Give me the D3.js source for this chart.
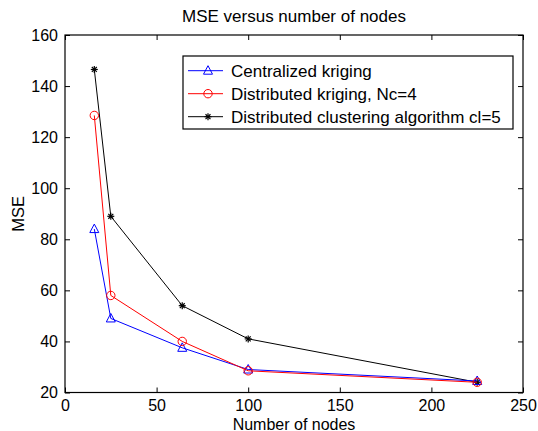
<!DOCTYPE html>
<html>
<head>
<meta charset="utf-8">
<script src="https://cdn.jsdelivr.net/npm/d3@7"></script>
<style>
  body { margin: 0; background: #fff; }
  svg text { font-family: "Liberation Sans", Arial, Helvetica, sans-serif; fill: #000; }
</style>
</head>
<body>
<div id="chart"></div>
<script>
// Data
const nodes = [16, 25, 64, 100, 225];
const centralized = [84, 49, 37.5, 29, 24.5];
const distributed = [128.5, 58, 40, 28.5, 24];
const clustering = [146.5, 89, 54, 41, 24];
const xTicks = [0, 50, 100, 150, 200, 250];
const yTicks = [20, 40, 60, 80, 100, 120, 140, 160];
const seriesNames = ['Centralized kriging', 'Distributed kriging, Nc=4', 'Distributed clustering algorithm cl=5'];

const width = 538, height = 431;
const margin = { top: 35, right: 15, bottom: 38.5, left: 65 };
const plotW = width - margin.left - margin.right;
const plotH = height - margin.top - margin.bottom;

const svg = d3.select('#chart').append('svg')
    .attr('width', width)
    .attr('height', height);

const chart = svg.append('g')
    .attr('transform', `translate(${margin.left}, ${margin.top})`);

const x = d3.scaleLinear().domain([0, 250]).range([0, plotW]);
const y = d3.scaleLinear().domain([20, 160]).range([plotH, 0]);

// axes with inward ticks, MATLAB style
const tickLen = 5;
chart.append('g')
    .attr('transform', `translate(0, ${plotH})`)
    .call(d3.axisBottom(x).tickValues(xTicks).tickSizeInner(-tickLen).tickSizeOuter(0).tickPadding(7))
    .call(g => g.select('.domain').remove())
    .call(g => g.selectAll('text').attr('font-size', 16));

chart.append('g')
    .call(d3.axisLeft(y).tickValues(yTicks).tickSizeInner(-tickLen).tickSizeOuter(0).tickPadding(7))
    .call(g => g.select('.domain').remove())
    .call(g => g.selectAll('text').attr('font-size', 16));

chart.append('g')
    .call(d3.axisTop(x).tickValues(xTicks).tickSizeInner(-tickLen).tickSizeOuter(0))
    .call(g => g.select('.domain').remove())
    .call(g => g.selectAll('text').remove());

chart.append('g')
    .attr('transform', `translate(${plotW}, 0)`)
    .call(d3.axisRight(y).tickValues(yTicks).tickSizeInner(-tickLen).tickSizeOuter(0))
    .call(g => g.select('.domain').remove())
    .call(g => g.selectAll('text').remove());

chart.append('rect')
    .attr('width', plotW)
    .attr('height', plotH)
    .attr('fill', 'none')
    .attr('stroke', '#000')
    .attr('stroke-width', 1.2);

// markers
function drawMarker(g, type, color) {
    if (type === 'triangle') {
        g.append('path').attr('d', 'M0,-5L4.5,3.5L-4.5,3.5Z')
            .attr('fill', 'none').attr('stroke', color).attr('stroke-width', 1);
    } else if (type === 'circle') {
        g.append('circle').attr('r', 4.2)
            .attr('fill', 'none').attr('stroke', color).attr('stroke-width', 1);
    } else {
        const r = 3.5;
        [0, 45, 90, 135].forEach(a => {
            const rad = a * Math.PI / 180;
            g.append('line')
                .attr('x1', -r * Math.cos(rad)).attr('y1', -r * Math.sin(rad))
                .attr('x2', r * Math.cos(rad)).attr('y2', r * Math.sin(rad))
                .attr('stroke', color).attr('stroke-width', 1.2);
        });
    }
}

const series = [
    { name: seriesNames[0], values: centralized, color: '#0000ff', marker: 'triangle' },
    { name: seriesNames[1], values: distributed, color: '#ff0000', marker: 'circle' },
    { name: seriesNames[2], values: clustering, color: '#000000', marker: 'star' }
];

const line = d3.line()
    .x(d => x(d[0]))
    .y(d => y(d[1]));

// draw black first so red/blue sit on top like in the figure
[series[2], series[0], series[1]].forEach(s => {
    const pts = nodes.map((n, i) => [n, s.values[i]]);
    chart.append('path')
        .datum(pts)
        .attr('d', line)
        .attr('fill', 'none')
        .attr('stroke', s.color)
        .attr('stroke-width', 1);
    pts.forEach(p => {
        const g = chart.append('g').attr('transform', `translate(${x(p[0])}, ${y(p[1])})`);
        drawMarker(g, s.marker, s.color);
    });
});

// legend
const legend = svg.append('g').attr('transform', 'translate(183, 56)');
legend.append('rect')
    .attr('width', 330)
    .attr('height', 73)
    .attr('fill', '#fff')
    .attr('stroke', '#000')
    .attr('stroke-width', 1.2);

series.forEach((s, i) => {
    const ly = 14.7 + i * 23;
    legend.append('line')
        .attr('x1', 5).attr('x2', 40)
        .attr('y1', ly).attr('y2', ly)
        .attr('stroke', s.color).attr('stroke-width', 1);
    drawMarker(legend.append('g').attr('transform', `translate(25, ${ly})`), s.marker, s.color);
    legend.append('text')
        .attr('x', 48)
        .attr('y', ly)
        .attr('dy', '0.35em')
        .attr('font-size', 17)
        .text(s.name);
});

// title and labels
svg.append('text')
    .attr('x', margin.left + plotW / 2)
    .attr('y', 22)
    .attr('text-anchor', 'middle')
    .attr('font-size', 17)
    .text('MSE versus number of nodes');

svg.append('text')
    .attr('x', margin.left + plotW / 2)
    .attr('y', 429.5)
    .attr('text-anchor', 'middle')
    .attr('font-size', 16)
    .text('Number of nodes');

svg.append('text')
    .attr('transform', 'rotate(-90)')
    .attr('x', -(margin.top + plotH / 2))
    .attr('y', 24)
    .attr('text-anchor', 'middle')
    .attr('font-size', 16.5)
    .text('MSE');
</script>
</body>
</html>
